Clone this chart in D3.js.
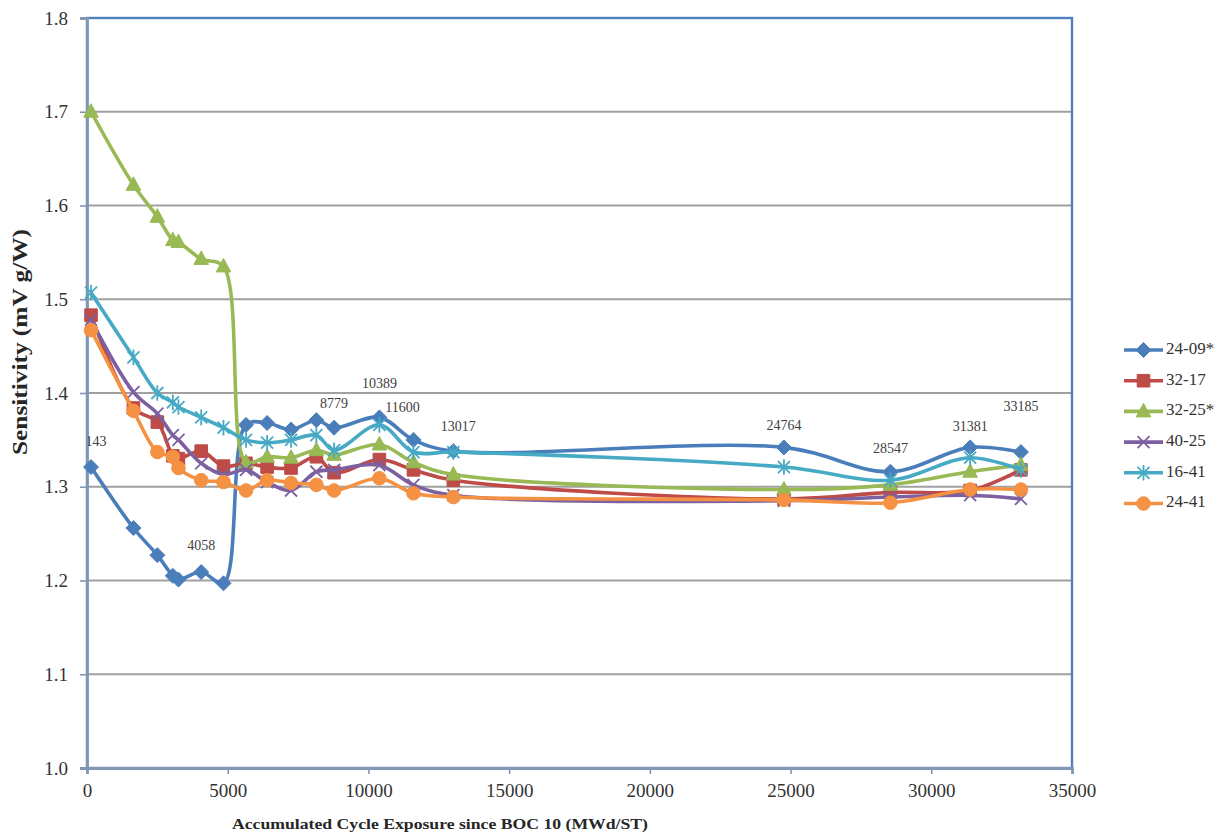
<!DOCTYPE html>
<html>
<head>
<meta charset="utf-8">
<script src="https://cdn.jsdelivr.net/npm/d3@7"></script>
<style>
  body { margin: 0; background: #fff; }
  text { font-family: "Liberation Serif", "DejaVu Serif", serif; }
</style>
</head>
<body>
<svg width="1225" height="834"></svg>
<script>
// exposure (MWd/ST) at each measurement
const exposure = [143, 1650, 2500, 3050, 3250, 4058, 4850, 5650, 6400, 7250, 8150, 8779, 10389, 11600, 13017, 24764, 28547, 31381, 33185];

const seriesNames = ['24-09*', '32-17', '32-25*', '40-25', '16-41', '24-41'];

const sens2409 = [1.321, 1.256, 1.227, 1.205, 1.201, 1.209, 1.197, 1.366, 1.368, 1.361, 1.371, 1.363, 1.374, 1.350, 1.338, 1.342, 1.316, 1.342, 1.337];
const sens3217 = [1.483, 1.384, 1.369, 1.333, 1.330, 1.338, 1.322, 1.325, 1.321, 1.320, 1.332, 1.315, 1.329, 1.318, 1.307, 1.287, 1.294, 1.296, 1.318];
const sens3225 = [1.700, 1.622, 1.588, 1.563, 1.561, 1.543, 1.535, 1.326, 1.332, 1.331, 1.339, 1.334, 1.345, 1.326, 1.313, 1.297, 1.302, 1.316, 1.323];
const sens4025 = [1.478, 1.401, 1.378, 1.355, 1.350, 1.325, 1.313, 1.318, 1.305, 1.296, 1.316, 1.318, 1.323, 1.302, 1.291, 1.285, 1.289, 1.291, 1.287];
const sens1641 = [1.507, 1.438, 1.400, 1.390, 1.385, 1.374, 1.363, 1.350, 1.347, 1.350, 1.355, 1.339, 1.366, 1.337, 1.337, 1.321, 1.307, 1.331, 1.318];
const sens2441 = [1.467, 1.381, 1.337, 1.332, 1.320, 1.307, 1.305, 1.296, 1.307, 1.304, 1.302, 1.296, 1.309, 1.293, 1.289, 1.286, 1.283, 1.297, 1.297];

// exposures labelled on the 24-09* series
const labelledExposure = [143, 4058, 8779, 10389, 11600, 13017, 24764, 28547, 31381, 33185];

const yTicks = [1.0, 1.1, 1.2, 1.3, 1.4, 1.5, 1.6, 1.7, 1.8];
const xTicks = [0, 5000, 10000, 15000, 20000, 25000, 30000, 35000];

const allSeries = [sens2409, sens3217, sens3225, sens4025, sens1641, sens2441];
const colors = ['#4a7ebb', '#be4b48', '#98b954', '#7d60a0', '#46aac5', '#f59143'];
const markers = ['diamond', 'square', 'triangle', 'x', 'star', 'circle'];

var svg = d3.select('svg');
var plotLeft = 87, plotTop = 18, plotRight = 1072, plotBottom = 768;

var x = d3.scaleLinear().domain([0, 35000]).range([plotLeft, plotRight]);
var y = d3.scaleLinear().domain([1.0, 1.8]).range([plotBottom, plotTop]);

// gridlines
svg.append('g')
  .selectAll('line')
  .data(yTicks.slice(1, -1))
  .enter().append('line')
  .attr('x1', plotLeft).attr('x2', plotRight)
  .attr('y1', d => y(d)).attr('y2', d => y(d))
  .attr('stroke', '#a0a0a0')
  .attr('stroke-width', 2);

// plot frame
svg.append('rect')
  .attr('x', plotLeft).attr('y', plotTop)
  .attr('width', plotRight - plotLeft).attr('height', plotBottom - plotTop)
  .attr('fill', 'none')
  .attr('stroke', '#4f81bd')
  .attr('stroke-width', 2.4);

// axes
var yAxis = svg.append('g')
  .attr('transform', 'translate(' + plotLeft + ',0)')
  .call(d3.axisLeft(y).tickValues(yTicks).tickFormat(d3.format('.1f')).tickSize(7).tickPadding(12));
var xAxis = svg.append('g')
  .attr('transform', 'translate(0,' + plotBottom + ')')
  .call(d3.axisBottom(x).tickValues(xTicks).tickFormat(d3.format('d')).tickSize(6).tickPadding(10));

[yAxis, xAxis].forEach(function(ax) {
  ax.select('.domain').attr('stroke', '#8197b3').attr('stroke-width', 2.8);
  ax.selectAll('.tick line').attr('stroke', '#8197b3').attr('stroke-width', 1.6);
  ax.selectAll('.tick text')
    .attr('fill', '#333')
    .style('font-family', '"Liberation Serif", serif');
});
yAxis.selectAll('.tick text').style('font-size', '19px');
xAxis.selectAll('.tick text').style('font-size', '19px');

// axis titles
svg.append('text')
  .attr('transform', 'translate(27,342) rotate(-90)')
  .attr('text-anchor', 'middle')
  .attr('textLength', 226)
  .attr('lengthAdjust', 'spacingAndGlyphs')
  .style('font-size', '22px')
  .style('font-weight', 'bold')
  .attr('fill', '#262626')
  .text('Sensitivity (mV g/W)');

svg.append('text')
  .attr('x', 440).attr('y', 829)
  .attr('text-anchor', 'middle')
  .attr('textLength', 416)
  .attr('lengthAdjust', 'spacingAndGlyphs')
  .style('font-size', '15px')
  .style('font-weight', 'bold')
  .attr('fill', '#262626')
  .text('Accumulated Cycle Exposure since BOC 10 (MWd/ST)');

// markers
function markerPath(kind) {
  var r;
  switch (kind) {
    case 'diamond':
      r = 7.5;
      return 'M0,' + -r + 'L' + r + ',0L0,' + r + 'L' + -r + ',0Z';
    case 'square':
      r = 6.3;
      return 'M' + -r + ',' + -r + 'H' + r + 'V' + r + 'H' + -r + 'Z';
    case 'triangle':
      r = 7.3;
      return 'M0,' + -r * 1.1 + 'L' + r + ',' + r * 0.75 + 'L' + -r + ',' + r * 0.75 + 'Z';
    case 'x':
      r = 6;
      return 'M' + -r + ',' + -r + 'L' + r + ',' + r + 'M' + r + ',' + -r + 'L' + -r + ',' + r;
    case 'star':
      r = 6;
      return 'M' + -r + ',' + -r + 'L' + r + ',' + r + 'M' + r + ',' + -r + 'L' + -r + ',' + r + 'M0,' + -r * 1.3 + 'V' + r * 1.3;
    default:
      r = 6.8;
      return 'M' + r + ',0A' + r + ',' + r + ' 0 1,1 ' + -r + ',0A' + r + ',' + r + ' 0 1,1 ' + r + ',0Z';
  }
}

function drawMarker(sel, i) {
  var filled = markers[i] !== 'x' && markers[i] !== 'star';
  sel.attr('d', markerPath(markers[i]))
    .attr('fill', filled ? colors[i] : 'none')
    .attr('stroke', colors[i])
    .attr('stroke-width', filled ? 1 : 1.8);
}

var line = d3.line()
  .x(d => x(d[0]))
  .y(d => y(d[1]))
  .curve(d3.curveCatmullRom.alpha(0.5));

allSeries.forEach(function(vals, i) {
  var pts = exposure.map((e, j) => [e, vals[j]]);
  var g = svg.append('g').attr('class', 'series');
  g.append('path')
    .datum(pts)
    .attr('d', line)
    .attr('fill', 'none')
    .attr('stroke', colors[i])
    .attr('stroke-width', 3.6)
    .attr('stroke-linejoin', 'round');
  g.selectAll('path.m')
    .data(pts)
    .enter().append('path')
    .attr('class', 'm')
    .attr('transform', d => 'translate(' + x(d[0]) + ',' + y(d[1]) + ')')
    .call(drawMarker, i);
});

// data labels on 24-09*
var labelOffsets = {143: [5, -24], 4058: [0, -25], 8779: [0, -23], 10389: [0, -33], 11600: [-11, -31],
  13017: [5, -23], 24764: [0, -21], 28547: [0, -22], 31381: [0, -20], 33185: [0, -44]};

svg.append('clipPath').attr('id', 'plotclip')
  .append('rect').attr('x', plotLeft + 1).attr('y', plotTop)
  .attr('width', plotRight - plotLeft).attr('height', plotBottom - plotTop);

svg.append('g')
  .attr('clip-path', 'url(#plotclip)')
  .selectAll('text')
  .data(labelledExposure)
  .enter().append('text')
  .attr('x', d => x(d) + labelOffsets[d][0])
  .attr('y', d => y(sens2409[exposure.indexOf(d)]) + labelOffsets[d][1])
  .attr('text-anchor', 'middle')
  .attr('dominant-baseline', 'middle')
  .style('font-size', '14px')
  .attr('fill', '#404040')
  .text(d => d);

// legend
var legend = svg.append('g')
  .selectAll('g')
  .data(seriesNames)
  .enter().append('g')
  .attr('transform', (d, i) => 'translate(1124,' + (350 + i * 30.7) + ')');

legend.append('line')
  .attr('x1', 0).attr('x2', 39)
  .attr('stroke', (d, i) => colors[i])
  .attr('stroke-width', 3.6);
legend.append('path')
  .attr('transform', 'translate(19.5,0)')
  .each(function(d, i) { d3.select(this).call(drawMarker, i); });
legend.append('text')
  .attr('x', 42)
  .attr('dominant-baseline', 'middle')
  .style('font-size', '17px')
  .attr('fill', '#333')
  .text(d => d);
</script>
</body>
</html>
